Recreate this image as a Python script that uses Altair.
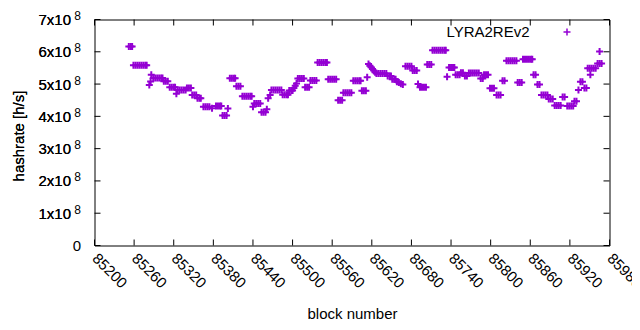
import altair as alt
import pandas as pd

series_name = "LYRA2REv2"

# block numbers (x) and hashrate in units of 1e8 h/s (y)
block = [
    85252, 85255, 85257,
    85259, 85262, 85265, 85268, 85271, 85274, 85277, 85279,
    85283, 85285, 85286,
    85289, 85292, 85295, 85298, 85301, 85303,
    85305, 85308, 85311,
    85314, 85317, 85320, 85322,
    85324,
    85326, 85329, 85332, 85335, 85338,
    85340, 85343, 85346,
    85348, 85351, 85354,
    85356, 85359, 85361,
    85365, 85368, 85371, 85374,
    85378,
    85384, 85387, 85390, 85392,
    85394, 85397, 85400,
    85402,
    85405, 85408, 85411, 85413,
    85415, 85418, 85421,
    85424, 85427, 85430, 85433, 85436, 85438,
    85440,
    85442, 85445, 85448, 85451,
    85453, 85456, 85459,
    85461, 85463, 85466,
    85468, 85471, 85474, 85477, 85480, 85483,
    85485, 85488, 85491, 85493,
    85495, 85498, 85500,
    85502, 85504, 85506,
    85508, 85511, 85514, 85517,
    85519, 85522, 85525,
    85527, 85530, 85533, 85536,
    85538, 85541, 85544, 85547, 85550, 85552,
    85554, 85557, 85560, 85563, 85566,
    85569, 85572, 85575,
    85577, 85580, 85583, 85586, 85589,
    85592, 85595, 85598, 85601, 85603,
    85605, 85608, 85611,
    85613,
    85615, 85617, 85619, 85621, 85623, 85625,
    85627, 85630, 85633, 85636, 85639, 85642,
    85644, 85647, 85649,
    85651, 85654, 85656,
    85658, 85661, 85664, 85667,
    85671, 85674, 85677, 85680,
    85682, 85685, 85688,
    85690,
    85693, 85696, 85699, 85702,
    85704, 85707, 85710,
    85712, 85715, 85718, 85721, 85724, 85727, 85730, 85732,
    85734,
    85737, 85740, 85743, 85745,
    85747, 85750, 85753,
    85755, 85758,
    85761, 85764,
    85767, 85770, 85773, 85776, 85779, 85782,
    85785, 85788,
    85790, 85793, 85796,
    85799, 85802, 85805,
    85809, 85812, 85815,
    85818, 85821,
    85824, 85827, 85830, 85833, 85836, 85839,
    85841, 85844, 85847,
    85849, 85852, 85855, 85858, 85861, 85863,
    85865, 85868,
    85871, 85874,
    85877, 85880, 85883, 85886,
    85888, 85891, 85894,
    85897, 85900, 85903, 85906,
    85909, 85912,
    85916, 85919, 85922, 85925,
    85927, 85930,
    85933,
    85936, 85939,
    85942, 85945,
    85947, 85950, 85953, 85956, 85959,
    85951,
    85962, 85965, 85968,
    85965,
]

hashrate_e8 = [
    6.16, 6.16, 6.16,
    5.58, 5.58, 5.58, 5.58, 5.58, 5.58, 5.58, 5.58,
    4.97, 5.08, 5.29,
    5.19, 5.19, 5.19, 5.19, 5.19, 5.19,
    5.09, 5.09, 5.09,
    4.90, 4.90, 4.90, 4.90,
    4.70,
    4.82, 4.82, 4.82, 4.82, 4.82,
    4.88, 4.88, 4.88,
    4.66, 4.66, 4.66,
    4.56, 4.56, 4.56,
    4.30, 4.30, 4.30, 4.30,
    4.25,
    4.32, 4.32, 4.32, 4.32,
    4.03, 4.03, 4.03,
    4.24,
    5.18, 5.18, 5.18, 5.18,
    4.93, 4.93, 4.93,
    4.62, 4.62, 4.62, 4.62, 4.62, 4.62,
    4.30,
    4.40, 4.40, 4.40, 4.40,
    4.13, 4.13, 4.13,
    4.22, 4.56, 4.66,
    4.82, 4.82, 4.82, 4.82, 4.82, 4.82,
    4.67, 4.67, 4.67, 4.67,
    4.80, 4.80, 4.80,
    4.88, 4.95, 5.02,
    5.17, 5.17, 5.17, 5.17,
    4.90, 4.90, 4.90,
    5.11, 5.11, 5.11, 5.11,
    5.67, 5.67, 5.67, 5.67, 5.67, 5.67,
    5.15, 5.15, 5.15, 5.15, 5.15,
    4.50, 4.50, 4.50,
    4.73, 4.73, 4.73, 4.73, 4.73,
    5.10, 5.10, 5.10, 5.10, 5.10,
    4.79, 4.79, 4.79,
    5.21,
    5.62, 5.57, 5.52, 5.47, 5.42, 5.37,
    5.33, 5.33, 5.33, 5.33, 5.33, 5.33,
    5.25, 5.25, 5.25,
    5.15, 5.15, 5.15,
    5.07, 5.05, 5.01, 4.99,
    5.55, 5.55, 5.55, 5.55,
    5.42, 5.42, 5.42,
    5.00,
    4.90, 4.90, 4.90, 4.90,
    5.61, 5.61, 5.61,
    6.05, 6.05, 6.05, 6.05, 6.05, 6.05, 6.05, 6.05,
    5.23,
    5.51, 5.51, 5.51, 5.51,
    5.29, 5.29, 5.29,
    5.35, 5.35,
    5.25, 5.25,
    5.34, 5.34, 5.34, 5.34, 5.34, 5.34,
    5.17, 5.17,
    5.29, 5.29, 5.29,
    4.87, 4.87, 4.87,
    4.66, 4.66, 4.66,
    5.10, 5.10,
    5.72, 5.72, 5.72, 5.72, 5.72, 5.72,
    5.05, 5.05, 5.05,
    5.77, 5.77, 5.77, 5.77, 5.77, 5.77,
    5.29, 5.29,
    4.99, 4.99,
    4.66, 4.66, 4.66, 4.66,
    4.54, 4.54, 4.54,
    4.34, 4.34, 4.34, 4.34,
    4.60, 4.60,
    4.32, 4.32, 4.32, 4.32,
    4.47, 4.47,
    4.82,
    5.07, 5.07,
    4.88, 4.88,
    5.49, 5.49, 5.49, 5.49, 5.49,
    5.29,
    5.64, 5.64, 5.64,
    6.01,
]

x_ticks = [85200, 85260, 85320, 85380, 85440, 85500, 85560, 85620,
           85680, 85740, 85800, 85860, 85920, 85980]
y_ticks = [0, 1e8, 2e8, 3e8, 4e8, 5e8, 6e8, 7e8]

df = pd.DataFrame({
    "block": block,
    "hashrate": [v * 1e8 for v in hashrate_e8],
    "series": series_name,
})
xt = pd.DataFrame({"block": x_ticks})
yt = pd.DataFrame({"hashrate": y_ticks})

W, H = 515, 226
PURPLE = "#9400D3"
PLUS = "M-1,0H1M0,-1V1"
FONT = "Liberation Sans"

xscale = alt.Scale(domain=[85200, 85980], nice=False, zero=False)
yscale = alt.Scale(domain=[0, 7e8], nice=False, zero=False)

x_axis = alt.Axis(
    values=x_ticks, title="block number", labelAngle=45,
    labelAlign="left", labelBaseline="middle", labelPadding=10,
    labelFlush=False, labelOverlap=False,
    ticks=False, domain=False, grid=False, format="d",
    titlePadding=16)

y_axis_main = alt.Axis(
    values=y_ticks, orient="left", title="hashrate [h/s]",
    labelExpr="datum.value == 0 ? '' : format(datum.value / 1e8, 'd') + 'x10'",
    labelPadding=24, labelOverlap=False, labelFlush=False,
    ticks=False, domain=False, grid=False,
    titleX=-76.5, titleY=116, titleAngle=-90, titleAnchor="start",
    titleAlign="center", titleBaseline="middle")

y_axis_exp = alt.Axis(
    values=y_ticks, orient="left", title=None,
    labelExpr="datum.value == 0 ? '0' : '8'",
    labelFontSize={"condition": {"test": "datum.value == 0", "value": 15}, "value": 12},
    labelOffset={"condition": {"test": "datum.value == 0", "value": 0}, "value": -4},
    labelPadding=14, labelOverlap=False, labelFlush=False,
    ticks=False, domain=False, grid=False)

points = alt.Chart(df).mark_point(
    shape=PLUS, filled=False, size=49, strokeWidth=2, opacity=1
).encode(
    x=alt.X("block:Q", scale=xscale, axis=x_axis),
    y=alt.Y("hashrate:Q", scale=yscale, axis=y_axis_main),
    color=alt.Color("series:N",
                    scale=alt.Scale(domain=[series_name], range=[PURPLE]),
                    legend=alt.Legend(
                        title=None, orient="none", legendX=465, legendY=5,
                        symbolType=PLUS, symbolSize=49, symbolStrokeWidth=1.5,
                        labelOffset={"expr": "-45"},
                        labelFontSize=15, labelAlign="right",
                        padding=0, labelFont=FONT, labelColor="black")),
)

yticks_left = alt.Chart(yt).mark_rule(color="black", strokeWidth=1).encode(
    y=alt.Y("hashrate:Q", scale=yscale, axis=y_axis_exp),
    x=alt.value(0), x2=alt.value(6),
)
yticks_right = alt.Chart(yt).mark_rule(color="black", strokeWidth=1).encode(
    y=alt.Y("hashrate:Q", scale=yscale, axis=y_axis_main),
    x=alt.value(W), x2=alt.value(W - 6),
)
xticks_bottom = alt.Chart(xt).mark_rule(color="black", strokeWidth=1).encode(
    x=alt.X("block:Q", scale=xscale, axis=x_axis),
    y=alt.value(H), y2=alt.value(H - 6),
)
xticks_top = alt.Chart(xt).mark_rule(color="black", strokeWidth=1).encode(
    x=alt.X("block:Q", scale=xscale, axis=x_axis),
    y=alt.value(0), y2=alt.value(6),
)

chart = alt.layer(
    points, yticks_left, yticks_right, xticks_bottom, xticks_top
).resolve_axis(y="independent").properties(
    width=W, height=H,
    autosize=alt.AutoSizeParams(type="none"),
    padding={"left": 86.5, "top": 11.5, "right": 22, "bottom": 76},
).configure_view(
    stroke="black", strokeWidth=1
).configure_axis(
    labelFont=FONT, titleFont=FONT, labelFontSize=15, titleFontSize=15,
    labelColor="black", titleColor="black", titleFontWeight="normal"
).configure_legend(
    labelFont=FONT
)

chart.save("out.html", embed_options={"renderer": "svg", "actions": False})
